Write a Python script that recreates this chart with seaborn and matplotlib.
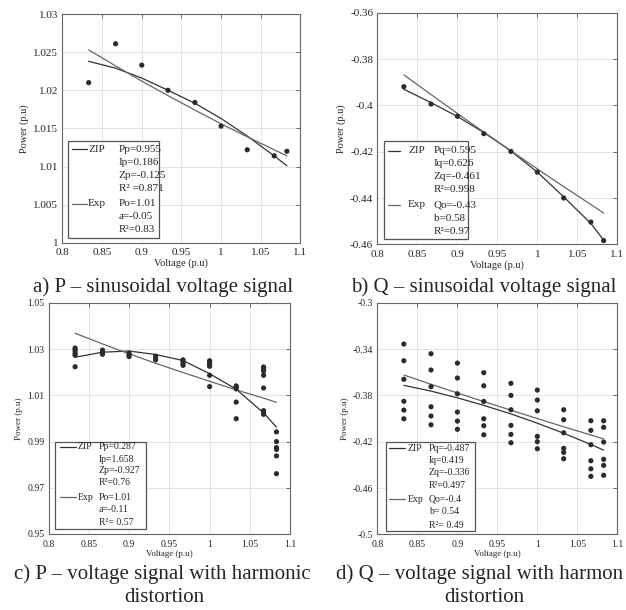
import numpy as np
import pandas as pd
import seaborn as sns
import matplotlib.pyplot as plt
from matplotlib.patches import Rectangle
from matplotlib.ticker import FuncFormatter

sns.set_style("whitegrid")
plt.rcParams['font.family'] = ['Liberation Serif', 'DejaVu Serif']

# voltage steps (p.u)
volts = [0.833, 0.867, 0.9, 0.933, 0.967, 1.0, 1.033, 1.067, 1.083]

# a) P - sinusoidal
pa_meas = [1.0210, 1.0261, 1.0233, 1.0200, 1.0184, 1.0153, 1.0122, 1.0114, 1.0120]
pa_zip = [1.0238, 1.0229, 1.0216, 1.0200, 1.0183, 1.0163, 1.0140, 1.0114, 1.0101]
pa_exp = [1.0253, 1.0232, 1.0212, 1.0193, 1.0174, 1.0156, 1.0139, 1.0122, 1.0114]

# b) Q - sinusoidal
qb_meas = [-0.3919, -0.3994, -0.4047, -0.4122, -0.4199, -0.4288, -0.4400, -0.4504, -0.4584]
qb_zip = [-0.3930, -0.3988, -0.4048, -0.4117, -0.4197, -0.4288, -0.4395, -0.4510, -0.4582]
qb_exp = [-0.3868, -0.3953, -0.4035, -0.4115, -0.4196, -0.4274, -0.4351, -0.4428, -0.4465]

# c) P - harmonic distortion (several samples per voltage)
pc_meas = [
    [1.0305, 1.0298, 1.0290, 1.0280, 1.0274, 1.0224],
    [1.0296, 1.0289, 1.0282, 1.0278],
    [1.0283, 1.0276, 1.0268],
    [1.0270, 1.0262, 1.0254],
    [1.0254, 1.0246, 1.0238, 1.0230],
    [1.0250, 1.0243, 1.0234, 1.0226, 1.0187, 1.0138],
    [1.0141, 1.0135, 1.0128, 1.0071, 0.9999],
    [1.0223, 1.0214, 1.0206, 1.0187, 1.0132, 1.0034, 1.0026, 1.0018],
    [0.9942, 0.9900, 0.9874, 0.9866, 0.9838, 0.9761],
]
pc_zip = [1.0265, 1.0287, 1.0292, 1.0277, 1.0251, 1.0194, 1.0127, 1.0024, 0.9963]
pc_exp = [1.0369, 1.0323, 1.0280, 1.0239, 1.0199, 1.0161, 1.0124, 1.0088, 1.0070]

# d) Q - harmonic distortion
qd_meas = [
    [-0.3357, -0.3501, -0.3661, -0.3851, -0.3927, -0.4002],
    [-0.3440, -0.3581, -0.3725, -0.3898, -0.3978, -0.4054],
    [-0.3521, -0.3650, -0.3786, -0.3944, -0.4022, -0.4093],
    [-0.3604, -0.3717, -0.3852, -0.4002, -0.4062, -0.4140],
    [-0.3696, -0.3800, -0.3924, -0.4059, -0.4137, -0.4209],
    [-0.3754, -0.3840, -0.3933, -0.4154, -0.4200, -0.4261],
    [-0.3924, -0.4010, -0.4123, -0.4257, -0.4292, -0.4347],
    [-0.4019, -0.4102, -0.4226, -0.4364, -0.4434, -0.4499],
    [-0.4019, -0.4076, -0.4203, -0.4352, -0.4404, -0.4490],
]
qd_zip = [-0.3713, -0.3763, -0.3821, -0.3886, -0.3960, -0.4040, -0.4127, -0.4224, -0.4273]
qd_exp = [-0.3624, -0.3704, -0.3779, -0.3853, -0.3928, -0.4000, -0.4071, -0.4142, -0.4176]

# legend texts
leg_a_zip = ["Pp=0.955", "Ip=0.186", "Zp=-0.125", "R² =0.871"]
leg_a_exp = ["Po=1.01", "a=-0.05", "R²=0.83"]
leg_b_zip = ["Pq=0.595", "Iq=0.626", "Zq=-0.461", "R²=0.998"]
leg_b_exp = ["Qo=-0.43", "b=0.58", "R²=0.97"]
leg_c_zip = ["Pp=0.287", "Ip=1.658", "Zp=-0.927", "R²=0.76"]
leg_c_exp = ["Po=1.01", "a=-0.11", "R²= 0.57"]
leg_d_zip = ["Pq=-0.487", "Iq=0.419", "Zq=-0.336", "R²=0.497"]
leg_d_exp = ["Qo=-0.4", "b= 0.54", "R²= 0.49"]

captions = ["a) P \u2013 sinusoidal voltage signal",
            "b) Q \u2013 sinusoidal voltage signal",
            "c) P \u2013 voltage signal with harmonic",
            "d) Q \u2013 voltage signal with harmon"]
caption2 = "distortion"


def long_df(meas):
    rows = [(v, p) for v, ps in zip(volts, meas) for p in ps]
    return pd.DataFrame(rows, columns=["V", "P"])


def style_axes(ax, ylim, yticks, fs):
    ax.set_xlim(0.8, 1.1)
    ax.set_ylim(*ylim)
    ax.set_xticks([0.8, 0.85, 0.9, 0.95, 1.0, 1.05, 1.1])
    ax.set_yticks(yticks)
    fmt = FuncFormatter(lambda v, p: f"{v:g}")
    ax.xaxis.set_major_formatter(fmt)
    ax.yaxis.set_major_formatter(fmt)
    ax.tick_params(direction='in', length=3, width=0.6, color='#555555',
                   labelsize=fs, top=True, right=True)
    ax.tick_params(axis='x', pad=4)
    ax.tick_params(axis='y', pad=3)
    ax.grid(True, color='#e4e4e4', linewidth=0.7)
    for s in ax.spines.values():
        s.set_color('#666666')
        s.set_linewidth(0.8)
    ax.set_xlabel("Voltage (p.u)", fontsize=fs - 0.5, labelpad=1)
    ax.set_ylabel("Power (p.u)", fontsize=fs - 0.5, labelpad=3)


def draw_legend(ax, box, sample, lab_x, par_x, ys, zip_txt, exp_txt, fs):
    x0, y0, x1, y1 = box
    ax.add_patch(Rectangle((x0, y0), x1 - x0, y1 - y0, transform=ax.transAxes,
                           facecolor='white', edgecolor='#555555', lw=0.9, zorder=5))
    for name, txt, row, col in [("ZIP", zip_txt, 0, '#333333'), ("Exp", exp_txt, 4, '#666666')]:
        ax.plot(sample, [ys[row], ys[row]], transform=ax.transAxes, color=col, lw=0.9, zorder=6)
        ax.text(lab_x, ys[row], name, transform=ax.transAxes, fontsize=fs, va='center', zorder=6)
        for k, t in enumerate(txt):
            ax.text(par_x, ys[row + k], t, transform=ax.transAxes, fontsize=fs, va='center', zorder=6)


fig = plt.figure(figsize=(6.26, 6.10), dpi=100)
ax_a = fig.add_axes([0.0998, 0.602, 0.380, 0.375])
ax_b = fig.add_axes([0.603, 0.5995, 0.383, 0.3795])
ax_c = fig.add_axes([0.0775, 0.1246, 0.386, 0.3787])
ax_d = fig.add_axes([0.603, 0.124, 0.383, 0.3797])

dot = dict(color='#2b2b2b', s=14, edgecolor='none', zorder=3)

# a
sns.lineplot(x=volts, y=pa_zip, ax=ax_a, color='#333333', lw=0.9)
sns.lineplot(x=volts, y=pa_exp, ax=ax_a, color='#666666', lw=0.9)
sns.scatterplot(x=volts, y=pa_meas, ax=ax_a, **dot)
style_axes(ax_a, (1.0, 1.03), [1.0, 1.005, 1.01, 1.015, 1.02, 1.025, 1.03], 8)
draw_legend(ax_a, (0.022, 0.022, 0.405, 0.445), (0.039, 0.104), 0.108, 0.237,
            [0.409, 0.351, 0.296, 0.238, 0.170, 0.113, 0.056], leg_a_zip, leg_a_exp, 8)

# b
sns.lineplot(x=volts, y=qb_zip, ax=ax_b, color='#333333', lw=0.9)
sns.lineplot(x=volts, y=qb_exp, ax=ax_b, color='#666666', lw=0.9)
sns.scatterplot(x=volts, y=qb_meas, ax=ax_b, **dot)
style_axes(ax_b, (-0.46, -0.36), [-0.46, -0.44, -0.42, -0.40, -0.38, -0.36], 8)
draw_legend(ax_b, (0.028, 0.022, 0.378, 0.446), (0.045, 0.096), 0.128, 0.235,
            [0.405, 0.348, 0.292, 0.236, 0.170, 0.113, 0.056], leg_b_zip, leg_b_exp, 8)

# c
df_c = long_df(pc_meas)
sns.lineplot(x=volts, y=pc_zip, ax=ax_c, color='#333333', lw=0.9)
sns.lineplot(x=volts, y=pc_exp, ax=ax_c, color='#666666', lw=0.9)
sns.scatterplot(data=df_c, x="V", y="P", ax=ax_c, **dot)
style_axes(ax_c, (0.95, 1.05), [0.95, 0.97, 0.99, 1.01, 1.03, 1.05], 7)
draw_legend(ax_c, (0.027, 0.022, 0.402, 0.40), (0.048, 0.114), 0.119, 0.209,
            [0.378, 0.323, 0.274, 0.222, 0.160, 0.107, 0.051], leg_c_zip, leg_c_exp, 7)

# d
df_d = long_df(qd_meas)
sns.lineplot(x=volts, y=qd_zip, ax=ax_d, color='#333333', lw=0.9)
sns.lineplot(x=volts, y=qd_exp, ax=ax_d, color='#666666', lw=0.9)
sns.scatterplot(data=df_d, x="V", y="P", ax=ax_d, **dot)
style_axes(ax_d, (-0.5, -0.3), [-0.5, -0.46, -0.42, -0.38, -0.34, -0.3], 7)
draw_legend(ax_d, (0.034, 0.016, 0.405, 0.40), (0.048, 0.115), 0.124, 0.215,
            [0.371, 0.318, 0.266, 0.209, 0.151, 0.099, 0.039], leg_d_zip, leg_d_exp, 7)

cap_fs = 15
fig.text(163 / 626, 1 - 287 / 610, captions[0], ha='center', va='center', fontsize=cap_fs)
fig.text(484 / 626, 1 - 287 / 610, captions[1], ha='center', va='center', fontsize=cap_fs)
fig.text(162 / 626, 1 - 574 / 610, captions[2], ha='center', va='center', fontsize=cap_fs)
fig.text(164 / 626, 1 - 598 / 610, caption2, ha='center', va='center', fontsize=cap_fs)
fig.text(336 / 626, 1 - 574 / 610, captions[3], ha='left', va='center', fontsize=cap_fs)
fig.text(484 / 626, 1 - 598 / 610, caption2, ha='center', va='center', fontsize=cap_fs)

fig.savefig("out.png", dpi=100)
